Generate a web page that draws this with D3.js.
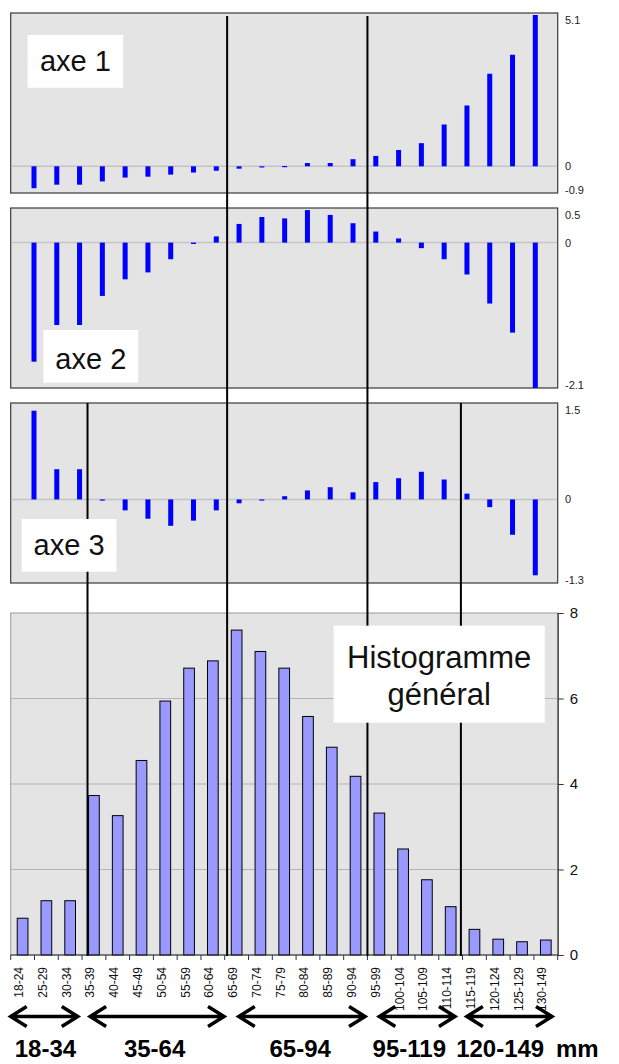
<!DOCTYPE html>
<html>
<head>
<meta charset="utf-8">
<script src="https://cdn.jsdelivr.net/npm/d3@7"></script>
<style>
  body { margin: 0; background: #fff; }
  svg { display: block; font-family: "Liberation Sans", Arial, sans-serif; }
</style>
</head>
<body>
<script>
// classes de taille
var categories = ["18-24", "25-29", "30-34", "35-39", "40-44", "45-49", "50-54", "55-59",
    "60-64", "65-69", "70-74", "75-79", "80-84", "85-89", "90-94", "95-99", "100-104",
    "105-109", "110-114", "115-119", "120-124", "125-129", "130-149"];

// coordonnées sur les 3 axes
var axe1 = [-0.74, -0.62, -0.62, -0.51, -0.38, -0.35, -0.28, -0.21, -0.15, -0.08, -0.02, 0.01,
    0.11, 0.11, 0.24, 0.35, 0.55, 0.78, 1.41, 2.05, 3.12, 3.76, 5.1];
var axe2 = [-1.72, -1.19, -1.19, -0.77, -0.53, -0.43, -0.24, -0.02, 0.09, 0.27, 0.37, 0.35,
    0.47, 0.40, 0.28, 0.16, 0.06, -0.08, -0.24, -0.46, -0.88, -1.30, -2.1];
var axe3 = [1.38, 0.47, 0.47, -0.01, -0.17, -0.30, -0.41, -0.33, -0.17, -0.06, -0.01, 0.05,
    0.14, 0.19, 0.11, 0.27, 0.33, 0.43, 0.31, 0.09, -0.12, -0.55, -1.18];

// histogramme général
var histo = [0.86, 1.27, 1.27, 3.73, 3.26, 4.55, 5.94, 6.71, 6.88, 7.60, 7.10, 6.71, 5.58,
    4.86, 4.18, 3.32, 2.48, 1.76, 1.13, 0.60, 0.37, 0.31, 0.35];

var axe1Ticks = [5.1, 0, -0.9];
var axe2Ticks = [0.5, 0, -2.1];
var axe3Ticks = [1.5, 0, -1.3];
var histoTicks = [0, 2, 4, 6, 8];

// séparations (en rang de classe) et regroupements
var splitsLong = [9.1, 15.0];
var splitsShort = [3.23, 18.93];
var groupLabels = ["18-34", "35-64", "65-94", "95-119", "120-149 mm"];
var groupSpans = [[0, 2.82], [3.34, 8.97], [9.59, 14.9], [15.5, 18.68], [19.18, 22.76]];
var groupLabelPos = [1.46, 6.05, 12.17, 16.76, 18.73];

var width = 619, height = 1064;
var left = 10.7, right = 557.7;
var bg = "#e4e4e4";

var svg = d3.select("body").append("svg")
    .attr("width", width)
    .attr("height", height);

var xTop = d3.scaleBand().domain(categories).range([22.6, 546.7]);
var xHist = d3.scaleBand().domain(categories).range([left, right]).paddingInner(0.55).paddingOuter(0.275);
var xIdx = d3.scaleLinear().domain([0, categories.length]).range([left, right]);

var panels = [
    {name: "axe 1", values: axe1, ticks: axe1Ticks, top: 13, bottom: 193, yTop: 15,
        box: [27.6, 35, 95.6, 52.7], textY: 71},
    {name: "axe 2", values: axe2, ticks: axe2Ticks, top: 208, bottom: 388, yTop: 208,
        box: [43.4, 330, 94.8, 52.7], textY: 369},
    {name: "axe 3", values: axe3, ticks: axe3Ticks, top: 403, bottom: 583, yTop: 403,
        box: [21.7, 519, 94.8, 52.7], textY: 555}
];

var layerBg = svg.append("g");
var layerLines = svg.append("g");
var layerBoxes = svg.append("g");

panels.forEach(function(p) {
    var y = d3.scaleLinear()
        .domain([p.ticks[2], p.ticks[0]])
        .range([p.bottom, p.yTop]);
    p.y = y;

    var g = layerBg.append("g");
    g.append("rect")
        .attr("x", left).attr("y", p.top)
        .attr("width", right - left).attr("height", p.bottom - p.top)
        .attr("fill", bg)
        .attr("stroke", "#3a3a3a")
        .attr("stroke-width", 1.2);

    g.append("line")
        .attr("x1", left + 0.6).attr("x2", right - 0.6)
        .attr("y1", y(0)).attr("y2", y(0))
        .attr("stroke", "#c4c4c4")
        .attr("stroke-width", 1.5);

    g.selectAll("rect.bar")
        .data(p.values)
        .enter().append("rect")
        .attr("class", "bar")
        .attr("x", function(d, i) { return xTop(categories[i]) + xTop.bandwidth() / 2 - 2.5; })
        .attr("y", function(d) { return Math.min(y(d), y(0)); })
        .attr("width", 5)
        .attr("height", function(d) { return Math.max(Math.abs(y(d) - y(0)), 1.2); })
        .attr("fill", "#0000ff");

    g.selectAll("text.tick")
        .data(p.ticks)
        .enter().append("text")
        .attr("class", "tick")
        .attr("x", 565)
        .attr("y", function(d) { return Math.min(Math.max(y(d), p.top + 7), p.bottom - 3) + 4; })
        .attr("font-size", 11)
        .attr("fill", "#222")
        .text(function(d) { return d; });
});

// histogramme
var hTop = 613, hBottom = 955;
var yHist = d3.scaleLinear().domain([0, 8]).range([hBottom, hTop]);

var gh = layerBg.append("g");
gh.append("rect")
    .attr("x", left).attr("y", hTop)
    .attr("width", right - left).attr("height", hBottom - hTop)
    .attr("fill", bg)
    .attr("stroke", "#9a9a9a")
    .attr("stroke-width", 1);

gh.selectAll("line.grid")
    .data(histoTicks.filter(function(d) { return d > 0 && d < 8; }))
    .enter().append("line")
    .attr("class", "grid")
    .attr("x1", left).attr("x2", right)
    .attr("y1", function(d) { return yHist(d); })
    .attr("y2", function(d) { return yHist(d); })
    .attr("stroke", "#b4b4b4")
    .attr("stroke-width", 1);

gh.selectAll("rect.hbar")
    .data(histo)
    .enter().append("rect")
    .attr("class", "hbar")
    .attr("x", function(d, i) { return xHist(categories[i]); })
    .attr("y", function(d) { return yHist(d); })
    .attr("width", xHist.bandwidth())
    .attr("height", function(d) { return yHist(0) - yHist(d); })
    .attr("fill", "#9999ff")
    .attr("stroke", "#000")
    .attr("stroke-width", 1);

// axe vertical droit
var yAxis = gh.append("g")
    .attr("transform", "translate(" + right + ",0)")
    .call(d3.axisRight(yHist).tickValues(histoTicks).tickSize(6).tickPadding(6).tickSizeOuter(0));
yAxis.select(".domain").attr("stroke", "#333").attr("stroke-width", 1.2);
yAxis.selectAll(".tick line").attr("stroke", "#333");
yAxis.selectAll(".tick text")
    .attr("font-size", 15)
    .attr("font-family", "Liberation Sans, Arial, sans-serif")
    .attr("fill", "#111");

// axe horizontal
var xAxisG = gh.append("g")
    .attr("transform", "translate(0," + hBottom + ")");
xAxisG.append("line")
    .attr("x1", left).attr("x2", right)
    .attr("stroke", "#333").attr("stroke-width", 1.2);
xAxisG.selectAll("line.tk")
    .data(d3.range(categories.length + 1))
    .enter().append("line")
    .attr("class", "tk")
    .attr("x1", function(d) { return xIdx(d); })
    .attr("x2", function(d) { return xIdx(d); })
    .attr("y1", 0).attr("y2", 5)
    .attr("stroke", "#333");

gh.selectAll("text.cat")
    .data(categories)
    .enter().append("text")
    .attr("class", "cat")
    .attr("transform", function(d) {
        return "translate(" + (xHist(d) + xHist.bandwidth() / 2 + 0.5) + "," + (hBottom + 12) + ") rotate(-90)";
    })
    .attr("text-anchor", "end")
    .attr("font-size", 12)
    .attr("fill", "#111")
    .text(function(d) { return d; });

// lignes de séparation
layerLines.selectAll("line.long")
    .data(splitsLong)
    .enter().append("line")
    .attr("x1", function(d) { return xIdx(d); })
    .attr("x2", function(d) { return xIdx(d); })
    .attr("y1", 16).attr("y2", hBottom + 1)
    .attr("stroke", "#000")
    .attr("stroke-width", 2);

layerLines.selectAll("line.short")
    .data(splitsShort)
    .enter().append("line")
    .attr("x1", function(d) { return xIdx(d); })
    .attr("x2", function(d) { return xIdx(d); })
    .attr("y1", panels[2].top).attr("y2", hBottom + 1)
    .attr("stroke", "#000")
    .attr("stroke-width", 2);

// étiquettes
panels.forEach(function(p) {
    layerBoxes.append("rect")
        .attr("x", p.box[0]).attr("y", p.box[1])
        .attr("width", p.box[2]).attr("height", p.box[3])
        .attr("fill", "#fff");
    layerBoxes.append("text")
        .attr("x", p.box[0] + p.box[2] / 2)
        .attr("y", p.textY)
        .attr("text-anchor", "middle")
        .attr("font-size", 29)
        .attr("fill", "#111")
        .text(p.name);
});

layerBoxes.append("rect")
    .attr("x", 333.6).attr("y", 625.7)
    .attr("width", 211.2).attr("height", 97)
    .attr("fill", "#fff");
layerBoxes.append("text")
    .attr("x", 439.2).attr("y", 668)
    .attr("text-anchor", "middle")
    .attr("font-size", 31)
    .attr("fill", "#111")
    .text("Histogramme");
layerBoxes.append("text")
    .attr("x", 439.2).attr("y", 705)
    .attr("text-anchor", "middle")
    .attr("font-size", 31)
    .attr("fill", "#111")
    .text("général");

// flèches de regroupement
var arrowY = 1016.5;
var head = 16, half = 10;
svg.append("g").selectAll("path.arrow")
    .data(groupSpans)
    .enter().append("path")
    .attr("class", "arrow")
    .attr("d", function(d) {
        var a = xIdx(d[0]), b = xIdx(d[1]);
        return "M" + (a + head) + "," + (arrowY - half) + "L" + a + "," + arrowY + "L" + (a + head) + "," + (arrowY + half) +
            "M" + a + "," + arrowY + "L" + b + "," + arrowY +
            "M" + (b - head) + "," + (arrowY - half) + "L" + b + "," + arrowY + "L" + (b - head) + "," + (arrowY + half);
    })
    .attr("fill", "none")
    .attr("stroke", "#000")
    .attr("stroke-width", 3.5);

svg.append("g").selectAll("text.group")
    .data(groupLabels)
    .enter().append("text")
    .attr("class", "group")
    .attr("x", function(d, i) { return xIdx(groupLabelPos[i]); })
    .attr("y", 1057)
    .attr("text-anchor", function(d, i) { return i === groupLabels.length - 1 ? "start" : "middle"; })
    .attr("word-spacing", function(d, i) { return i === groupLabels.length - 1 ? 5 : 0; })
    .attr("font-size", 24)
    .attr("font-weight", "bold")
    .attr("fill", "#000")
    .text(function(d) { return d; });
</script>
</body>
</html>
